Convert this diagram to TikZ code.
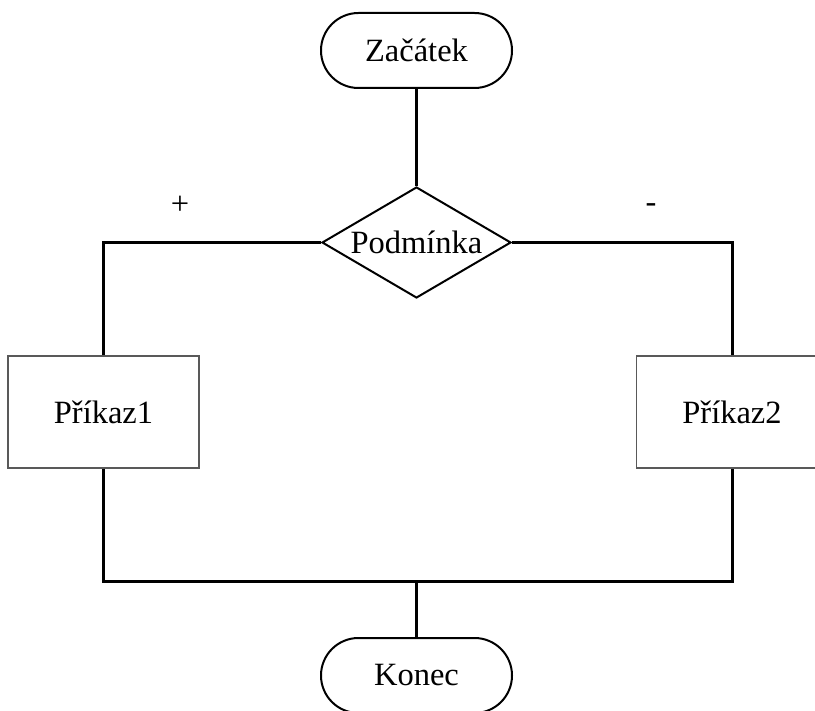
\documentclass[tikz,border=0pt]{standalone}
\usepackage{fontspec}
\setmainfont{Liberation Serif}
\usetikzlibrary{shapes.geometric}
\begin{document}
\begin{tikzpicture}[x=1pt,y=-1pt,
  every node/.style={font=\fontsize{32.5}{38}\selectfont},
  terminal/.style={draw=black,line width=2pt,rounded corners=37.5pt,minimum width=191pt,minimum height=75pt,inner sep=0pt},
  cond/.style={draw=black,line width=2pt,diamond,shape aspect=1.7,minimum width=189pt,minimum height=111pt,inner sep=0pt},
  cmd/.style={draw=black!65,line width=1.3pt,rectangle,minimum width=191pt,minimum height=112pt,inner sep=0pt},
  conn/.style={draw=black,line width=3pt},
  sign/.style={inner sep=0pt}]
\useasboundingbox (0,0) rectangle (815,711);
\clip (0,0) rectangle (815,711);
\node[terminal] (zac) at (416.5,50.5) {Začátek};
\node[cond] (pod) at (416.5,242.5) {Podmínka};
\node[cmd] (p1) at (103.5,412) {Příkaz1};
\node[cmd] (p2) at (732,412) {Příkaz2};
\node[terminal] (kon) at (416.5,675.5) {Konec};
\coordinate (jm) at (416.5,581);
\draw[conn] (zac.south) -- (pod.north);
\draw[conn] (pod.west) -| (p1.north);
\draw[conn] (pod.east) -| (p2.north);
\draw[conn] (p1.south) |- (jm) -| (p2.south);
\draw[conn] (jm) -- (kon.north);
\node[sign] (plus) at (180,205) {+};
\node[sign] (minus) at (651,208) {-};
\end{tikzpicture}
\end{document}
